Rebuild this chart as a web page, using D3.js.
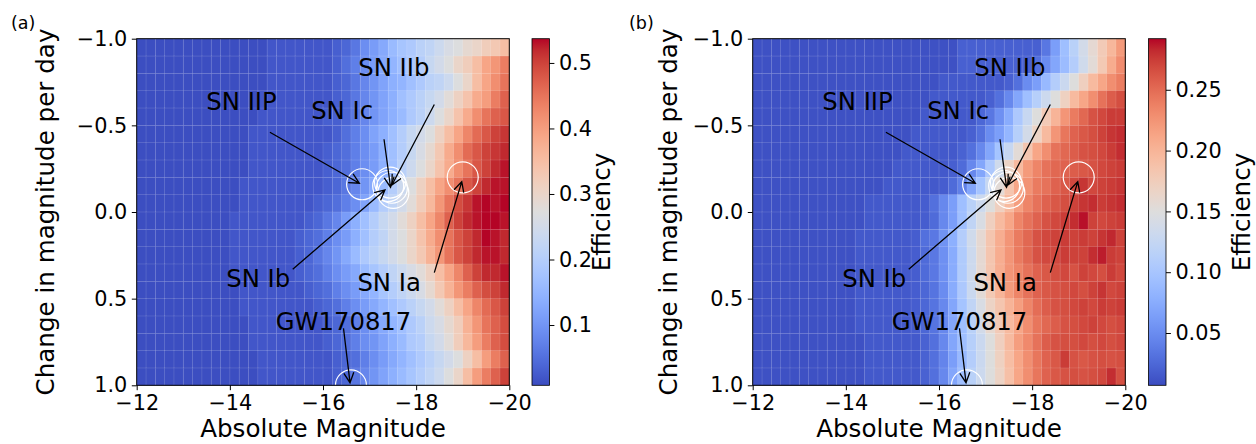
<!DOCTYPE html>
<html>
<head>
<meta charset="utf-8">
<script src="https://d3js.org/d3.v7.min.js"></script>
<style>
  body { margin: 0; background: #fff; }
  text { font-family: "DejaVu Sans", sans-serif; fill: #000; }
</style>
</head>
<body>
<svg id="chart" width="1256" height="444"></svg>
<script>
// bin edges of the two grids (absolute magnitude, change in magnitude per day)
const magEdges = [-12,-12.2,-12.4,-12.6,-12.8,-13,-13.2,-13.4,-13.6,-13.8,-14,-14.2,-14.4,-14.6,-14.8,-15,-15.2,-15.4,-15.6,-15.8,
  -16,-16.2,-16.4,-16.6,-16.8,-17,-17.2,-17.4,-17.6,-17.8,-18,-18.2,-18.4,-18.6,-18.8,-19,-19.2,-19.4,-19.6,-19.8,-20];
const rateEdges = [-1,-0.9,-0.8,-0.7,-0.6,-0.5,-0.4,-0.3,-0.2,-0.1,0,0.1,0.2,0.3,0.4,0.5,0.6,0.7,0.8,0.9,1];

const xTicks = [-12, -14, -16, -18, -20];
const yTicks = [-1.0, -0.5, 0.0, 0.5, 1.0];
const cbTicksA = [0.1, 0.2, 0.3, 0.4, 0.5];
const cbTicksB = [0.05, 0.10, 0.15, 0.20, 0.25];
const rangeA = [0.008, 0.537];
const rangeB = [0.007, 0.292];

// efficiency, panel (a): one row per rate bin (top = -1.0), 40 magnitude bins
const effA = [
  [.01,.01,.01,.01,.01,.01,.01,.01,.01,.01,.01,.01,.01,.01,.02,.02,.02,.02,.02,.02,.02,.03,.04,.06,.09,.11,.13,.16,.18,.19,.21,.22,.24,.26,.27,.29,.30,.32,.33,.35],
  [.01,.01,.01,.01,.01,.01,.01,.01,.01,.01,.01,.01,.01,.01,.02,.02,.02,.02,.02,.02,.02,.03,.05,.07,.09,.11,.13,.15,.17,.19,.20,.23,.25,.27,.30,.32,.35,.39,.41,.44],
  [.01,.01,.01,.01,.01,.01,.01,.01,.01,.01,.01,.01,.01,.01,.02,.02,.02,.02,.02,.02,.02,.03,.04,.06,.08,.10,.12,.14,.15,.17,.19,.21,.22,.24,.27,.30,.35,.39,.42,.45],
  [.01,.01,.01,.01,.01,.01,.01,.01,.01,.01,.01,.01,.01,.02,.02,.02,.02,.02,.02,.02,.02,.03,.04,.06,.08,.10,.12,.14,.17,.19,.21,.23,.25,.28,.31,.34,.38,.40,.44,.47],
  [.01,.01,.01,.01,.01,.01,.01,.01,.01,.01,.01,.01,.01,.02,.02,.02,.02,.02,.02,.02,.03,.03,.04,.06,.08,.10,.12,.14,.16,.19,.21,.24,.27,.30,.34,.38,.42,.45,.47,.48],
  [.01,.01,.01,.01,.01,.01,.01,.01,.01,.01,.01,.01,.02,.02,.02,.02,.02,.02,.02,.02,.02,.03,.05,.07,.09,.12,.14,.17,.20,.23,.25,.27,.31,.35,.39,.43,.46,.48,.50,.51],
  [.01,.01,.01,.01,.01,.01,.01,.01,.01,.01,.01,.01,.02,.02,.02,.02,.02,.02,.02,.02,.03,.04,.05,.07,.09,.11,.14,.17,.20,.23,.26,.29,.33,.38,.42,.46,.48,.50,.51,.52],
  [.01,.01,.01,.01,.01,.01,.01,.01,.01,.01,.01,.01,.02,.02,.02,.02,.02,.02,.02,.02,.03,.04,.05,.07,.09,.11,.14,.17,.21,.24,.27,.30,.34,.38,.42,.45,.48,.50,.52,.53],
  [.01,.01,.01,.01,.01,.01,.01,.01,.01,.01,.01,.02,.02,.02,.02,.02,.02,.02,.02,.02,.03,.04,.06,.08,.10,.13,.16,.20,.24,.27,.31,.35,.39,.42,.45,.48,.50,.52,.53,.53],
  [.01,.01,.01,.01,.01,.01,.01,.01,.01,.01,.01,.02,.02,.02,.02,.02,.02,.02,.02,.03,.04,.05,.07,.09,.12,.16,.20,.22,.25,.28,.32,.36,.41,.45,.49,.51,.53,.54,.53,.54],
  [.01,.01,.01,.01,.01,.01,.01,.01,.01,.01,.02,.02,.02,.02,.02,.02,.02,.02,.03,.04,.06,.08,.11,.14,.17,.20,.23,.25,.28,.31,.35,.39,.43,.47,.50,.52,.53,.54,.54,.53],
  [.01,.01,.01,.01,.01,.01,.01,.01,.01,.01,.02,.02,.02,.02,.02,.02,.02,.03,.04,.05,.07,.09,.11,.14,.17,.20,.22,.25,.27,.30,.34,.38,.42,.45,.48,.50,.52,.54,.53,.52],
  [.01,.01,.01,.01,.01,.01,.01,.01,.01,.01,.02,.02,.02,.02,.02,.02,.02,.03,.04,.06,.08,.10,.13,.16,.19,.21,.23,.25,.27,.30,.33,.37,.41,.45,.48,.50,.52,.53,.53,.52],
  [.01,.01,.01,.01,.01,.01,.01,.01,.01,.01,.02,.02,.02,.02,.02,.02,.02,.03,.04,.05,.07,.09,.11,.13,.16,.18,.20,.22,.24,.26,.28,.31,.35,.39,.43,.47,.50,.52,.52,.53],
  [.01,.01,.01,.01,.01,.01,.01,.01,.01,.01,.01,.02,.02,.02,.02,.02,.02,.02,.03,.04,.05,.07,.09,.11,.13,.15,.18,.20,.22,.24,.26,.29,.33,.37,.41,.44,.47,.49,.50,.52],
  [.01,.01,.01,.01,.01,.01,.01,.01,.01,.01,.01,.02,.02,.02,.02,.02,.02,.02,.02,.03,.04,.05,.07,.09,.11,.13,.15,.17,.19,.21,.23,.25,.28,.31,.35,.39,.43,.46,.48,.50],
  [.01,.01,.01,.01,.01,.01,.01,.01,.01,.01,.01,.01,.02,.02,.02,.02,.02,.02,.02,.02,.03,.04,.05,.07,.09,.11,.13,.15,.17,.19,.21,.24,.26,.29,.32,.37,.41,.45,.47,.49],
  [.01,.01,.01,.01,.01,.01,.01,.01,.01,.01,.01,.01,.02,.02,.02,.02,.02,.02,.02,.02,.03,.04,.05,.07,.09,.10,.12,.14,.16,.19,.20,.23,.25,.28,.32,.36,.40,.44,.47,.49],
  [.01,.01,.01,.01,.01,.01,.01,.01,.01,.01,.01,.01,.01,.02,.02,.02,.02,.02,.02,.02,.02,.03,.04,.05,.07,.09,.11,.13,.15,.17,.19,.21,.23,.25,.27,.31,.35,.40,.44,.47],
  [.01,.01,.01,.01,.01,.01,.01,.01,.01,.01,.01,.01,.01,.02,.02,.02,.02,.02,.02,.02,.02,.03,.04,.06,.08,.10,.12,.14,.16,.18,.20,.22,.24,.27,.30,.35,.40,.44,.47,.50]
];

// efficiency, panel (b)
const effB = [
  [.01,.01,.01,.01,.01,.01,.01,.01,.01,.01,.01,.01,.01,.01,.01,.01,.01,.01,.01,.01,.01,.01,.02,.02,.02,.02,.02,.02,.02,.02,.02,.035,.064,.093,.115,.138,.158,.178,.198,.221],
  [.01,.01,.01,.01,.01,.01,.01,.01,.01,.01,.01,.01,.01,.01,.01,.01,.01,.01,.01,.01,.01,.01,.02,.02,.02,.02,.02,.02,.02,.02,.03,.05,.07,.09,.11,.135,.155,.18,.207,.23],
  [.01,.01,.01,.01,.01,.01,.01,.01,.01,.01,.01,.01,.01,.01,.01,.01,.01,.01,.01,.01,.015,.015,.015,.015,.015,.015,.015,.02,.03,.05,.064,.087,.11,.13,.15,.172,.195,.212,.229,.24],
  [.01,.01,.01,.01,.01,.01,.01,.01,.01,.01,.01,.01,.01,.01,.01,.01,.01,.01,.01,.015,.015,.015,.015,.015,.015,.02,.03,.047,.07,.093,.112,.132,.15,.17,.195,.212,.229,.246,.258,.266],
  [.01,.01,.01,.01,.01,.01,.01,.01,.01,.01,.01,.01,.01,.01,.01,.01,.01,.01,.015,.015,.015,.015,.015,.015,.024,.035,.053,.075,.104,.127,.15,.178,.2,.224,.241,.252,.264,.269,.275,.275],
  [.01,.01,.01,.01,.01,.01,.01,.01,.01,.01,.01,.01,.01,.01,.01,.01,.01,.015,.015,.015,.015,.015,.015,.02,.03,.05,.064,.084,.112,.138,.167,.195,.224,.244,.255,.261,.266,.272,.278,.281],
  [.01,.01,.01,.01,.01,.01,.01,.01,.01,.01,.01,.01,.01,.01,.01,.01,.015,.015,.015,.015,.015,.015,.021,.03,.047,.07,.098,.127,.155,.184,.212,.229,.246,.252,.258,.264,.266,.269,.275,.281],
  [.01,.01,.01,.01,.01,.01,.01,.01,.01,.01,.01,.01,.01,.01,.01,.015,.015,.015,.015,.015,.015,.019,.027,.047,.07,.104,.135,.167,.195,.221,.235,.246,.252,.255,.258,.261,.264,.269,.272,.275],
  [.01,.01,.01,.01,.01,.01,.01,.01,.01,.01,.01,.01,.01,.01,.015,.015,.015,.015,.015,.015,.018,.027,.041,.07,.098,.127,.155,.184,.212,.226,.241,.246,.255,.261,.269,.278,.269,.272,.275,.278],
  [.01,.01,.01,.01,.01,.01,.01,.01,.01,.01,.01,.01,.015,.015,.015,.015,.015,.015,.018,.03,.047,.064,.093,.115,.132,.15,.172,.195,.218,.235,.246,.255,.261,.266,.272,.278,.281,.275,.278,.281],
  [.01,.01,.01,.01,.01,.01,.01,.01,.01,.01,.01,.01,.015,.015,.015,.015,.015,.015,.018,.027,.047,.064,.093,.121,.144,.172,.195,.212,.235,.246,.255,.264,.269,.275,.281,.289,.272,.269,.272,.275],
  [.01,.01,.01,.01,.01,.01,.01,.01,.01,.01,.01,.015,.015,.015,.015,.015,.015,.018,.03,.036,.055,.078,.11,.135,.158,.184,.206,.224,.241,.252,.264,.269,.272,.275,.272,.275,.272,.278,.283,.272],
  [.01,.01,.01,.01,.01,.01,.01,.01,.01,.01,.01,.015,.015,.015,.015,.015,.015,.018,.027,.036,.053,.075,.107,.132,.158,.184,.206,.224,.241,.252,.264,.269,.269,.275,.272,.272,.281,.286,.275,.272],
  [.01,.01,.01,.01,.01,.01,.01,.01,.01,.01,.01,.015,.015,.015,.015,.015,.015,.018,.027,.036,.053,.075,.107,.132,.158,.184,.206,.224,.235,.246,.255,.261,.266,.269,.264,.272,.269,.266,.275,.269],
  [.01,.01,.01,.01,.01,.01,.01,.01,.01,.01,.01,.015,.015,.015,.015,.015,.015,.018,.024,.033,.05,.075,.104,.13,.155,.18,.2,.22,.235,.246,.255,.261,.264,.266,.269,.266,.272,.278,.269,.272],
  [.01,.01,.01,.01,.01,.01,.01,.01,.01,.01,.01,.015,.015,.015,.015,.015,.015,.018,.024,.033,.047,.07,.098,.121,.144,.167,.184,.201,.218,.235,.249,.258,.264,.266,.269,.272,.269,.275,.272,.275],
  [.01,.01,.01,.01,.01,.01,.01,.01,.01,.01,.01,.015,.015,.015,.015,.015,.015,.018,.024,.033,.047,.07,.093,.115,.138,.161,.178,.195,.212,.229,.244,.252,.258,.264,.266,.269,.272,.269,.266,.269],
  [.01,.01,.01,.01,.01,.01,.01,.01,.01,.01,.01,.01,.015,.015,.015,.015,.015,.015,.021,.03,.047,.07,.093,.112,.13,.15,.172,.195,.218,.232,.246,.258,.264,.266,.266,.269,.266,.269,.266,.269],
  [.01,.01,.01,.01,.01,.01,.01,.01,.01,.01,.01,.01,.015,.015,.015,.015,.015,.015,.021,.03,.044,.064,.087,.11,.13,.15,.17,.192,.212,.229,.244,.255,.261,.275,.264,.261,.264,.266,.264,.266],
  [.01,.01,.01,.01,.01,.01,.01,.01,.01,.01,.01,.01,.015,.015,.015,.015,.015,.015,.021,.03,.047,.07,.093,.115,.132,.15,.167,.189,.212,.229,.244,.255,.261,.264,.266,.264,.266,.269,.281,.266]
];

// annotations (data coordinates), same in both panels
const annoLabels = ["SN IIP", "SN Ic", "SN IIb", "SN Ib", "SN Ia", "GW170817"];
const annoTextMag = [-14.25, -16.41, -17.52, -14.61, -17.42, -16.44];
const annoTextRate = [-0.64, -0.59, -0.835, 0.38, 0.405, 0.633];
const arrowFromMag = [-14.86, -17.31, -18.39, -15.35, -18.39, -16.44];
const arrowFromRate = [-0.46, -0.42, -0.62, 0.33, 0.35, 0.671];
const arrowToMag = [-16.78, -17.45, -17.48, -17.33, -18.98, -16.58];
const arrowToRate = [-0.166, -0.143, -0.156, -0.127, -0.175, 0.985];
const circleMag = [-16.84, -17.44, -17.48, -17.51, -17.40, -19.0, -16.6];
const circleRate = [-0.16, -0.17, -0.14, -0.11, -0.15, -0.2, 1.0];

// matplotlib "coolwarm" reference colours
const coolwarm = ["#3b4cc0","#445acc","#4d68d7","#5775e1","#6282ea","#6c8ef1","#779af7","#82a5fb",
  "#8db0fe","#98b9ff","#a3c2ff","#aec9fd","#b8d0f9","#c2d5f4","#ccd9ee","#d5dbe6","#dddddd",
  "#e5d8d1","#ecd3c5","#f1ccb9","#f5c4ad","#f7bba0","#f7b194","#f7a687","#f49a7b","#f18d6f",
  "#ec7f63","#e57058","#de604d","#d55042","#cb3e38","#c0282f","#b40426"];
const cmap = d3.scaleLinear()
  .domain(coolwarm.map((c, i) => i / (coolwarm.length - 1)))
  .range(coolwarm)
  .interpolate(d3.interpolateRgb)
  .clamp(true);

const svg = d3.select("svg#chart");
const plotTop = 38.7, plotW = 372.6, plotH = 346.6, cbW = 17.5;
const tickFont = "20.8px", labelFont = "24.6px", annoFont = "24.3px";

const panels = [
  { tag: "(a)", tagX: 11, left: 136.7, cbLeft: 532, eff: effA, range: rangeA, cbTicks: cbTicksA, cbFmt: ".1f", ylabX: 54, efflabX: 610 },
  { tag: "(b)", tagX: 629, left: 752.7, cbLeft: 1148.5, eff: effB, range: rangeB, cbTicks: cbTicksB, cbFmt: ".2f", ylabX: 677, efflabX: 1250 }
];

panels.forEach((p, pi) => {
  const x = d3.scaleLinear().domain([-12, -20]).range([p.left, p.left + plotW]);
  const y = d3.scaleLinear().domain([-1, 1]).range([plotTop, plotTop + plotH]);
  const norm = d3.scaleLinear().domain(p.range).range([0, 1]);

  const cells = [];
  p.eff.forEach((row, r) => row.forEach((v, c) => cells.push({ r, c, v })));

  const g = svg.append("g");
  g.selectAll("rect.cell").data(cells).join("rect")
    .attr("class", "cell")
    .attr("x", d => x(magEdges[d.c]))
    .attr("y", d => y(rateEdges[d.r]))
    .attr("width", d => x(magEdges[d.c + 1]) - x(magEdges[d.c]) + 0.3)
    .attr("height", d => y(rateEdges[d.r + 1]) - y(rateEdges[d.r]) + 0.3)
    .attr("fill", d => cmap(norm(d.v)))
    .attr("stroke", "rgba(255,255,255,0.16)")
    .attr("stroke-width", 0.7);

  // clip for markers
  const clipId = "clip" + pi;
  svg.append("clipPath").attr("id", clipId).append("rect")
    .attr("x", p.left).attr("y", plotTop).attr("width", plotW).attr("height", plotH);

  // circles
  g.append("g").attr("clip-path", `url(#${clipId})`)
    .selectAll("circle").data(circleMag).join("circle")
    .attr("cx", d => x(d))
    .attr("cy", (d, i) => y(circleRate[i]))
    .attr("r", 15.5)
    .attr("fill", "none")
    .attr("stroke", "#fff")
    .attr("stroke-width", 1.2);

  // arrows
  const arrows = annoLabels.map((lab, i) => ({
    x1: x(arrowFromMag[i]), y1: y(arrowFromRate[i]),
    x2: x(arrowToMag[i]), y2: y(arrowToRate[i])
  }));
  g.selectAll("path.arrow").data(arrows).join("path")
    .attr("class", "arrow")
    .attr("fill", "none")
    .attr("stroke", "#000")
    .attr("stroke-width", 1.3)
    .attr("d", a => {
      const ang = Math.atan2(a.y2 - a.y1, a.x2 - a.x1);
      const hl = 10, hw = 5;
      const bx = a.x2 - hl * Math.cos(ang), by = a.y2 - hl * Math.sin(ang);
      const px = -Math.sin(ang) * hw, py = Math.cos(ang) * hw;
      return `M${a.x1},${a.y1}L${a.x2},${a.y2}M${bx + px},${by + py}L${a.x2},${a.y2}L${bx - px},${by - py}`;
    });

  g.selectAll("text.anno").data(annoLabels).join("text")
    .attr("class", "anno")
    .attr("x", (d, i) => x(annoTextMag[i]))
    .attr("y", (d, i) => y(annoTextRate[i]) + 8.8)
    .attr("text-anchor", "middle")
    .style("font-size", annoFont)
    .text(d => d);

  // frame
  g.append("rect")
    .attr("x", p.left).attr("y", plotTop).attr("width", plotW).attr("height", plotH)
    .attr("fill", "none").attr("stroke", "#000").attr("stroke-width", 1);

  // axes
  const xAxis = g.append("g")
    .attr("transform", `translate(0,${plotTop + plotH})`)
    .call(d3.axisBottom(x).tickValues(xTicks).tickSize(4.9).tickPadding(4.9).tickFormat(d3.format(".0f")));
  const yAxis = g.append("g")
    .attr("transform", `translate(${p.left},0)`)
    .call(d3.axisLeft(y).tickValues(yTicks).tickSize(4.9).tickPadding(4.5).tickFormat(d3.format(".1f")));
  [xAxis, yAxis].forEach(ax => {
    ax.select(".domain").remove();
    ax.selectAll("text").style("font-size", tickFont).style("font-family", "DejaVu Sans").attr("fill", "#000");
    ax.selectAll("line").attr("stroke", "#000");
  });

  g.append("text")
    .attr("x", p.left + plotW / 2).attr("y", 437)
    .attr("text-anchor", "middle")
    .style("font-size", labelFont)
    .text("Absolute Magnitude");

  g.append("text")
    .attr("transform", `translate(${p.ylabX},${plotTop + plotH / 2}) rotate(-90)`)
    .attr("text-anchor", "middle")
    .style("font-size", labelFont)
    .text("Change in magnitude per day");

  g.append("text")
    .attr("x", p.tagX).attr("y", 29)
    .style("font-size", "17.5px")
    .text(p.tag);

  // colorbar
  const cy = d3.scaleLinear().domain(p.range).range([plotTop + plotH, plotTop]);
  const gradId = "grad" + pi;
  const grad = svg.append("defs").append("linearGradient")
    .attr("id", gradId).attr("x1", 0).attr("y1", 1).attr("x2", 0).attr("y2", 0);
  grad.selectAll("stop").data(coolwarm).join("stop")
    .attr("offset", (d, i) => i / (coolwarm.length - 1))
    .attr("stop-color", d => d);
  g.append("rect")
    .attr("x", p.cbLeft).attr("y", plotTop).attr("width", cbW).attr("height", plotH)
    .attr("fill", `url(#${gradId})`)
    .attr("stroke", "#000").attr("stroke-width", 0.8);
  const cbAxis = g.append("g")
    .attr("transform", `translate(${p.cbLeft + cbW},0)`)
    .call(d3.axisRight(cy).tickValues(p.cbTicks).tickSize(4.9).tickPadding(4.5).tickFormat(d3.format(p.cbFmt)));
  cbAxis.select(".domain").remove();
  cbAxis.selectAll("text").style("font-size", tickFont).style("font-family", "DejaVu Sans").attr("fill", "#000");
  cbAxis.selectAll("line").attr("stroke", "#000");

  g.append("text")
    .attr("transform", `translate(${p.efflabX},${plotTop + plotH / 2}) rotate(-90)`)
    .attr("text-anchor", "middle")
    .style("font-size", labelFont)
    .text("Efficiency");
});
</script>
</body>
</html>
